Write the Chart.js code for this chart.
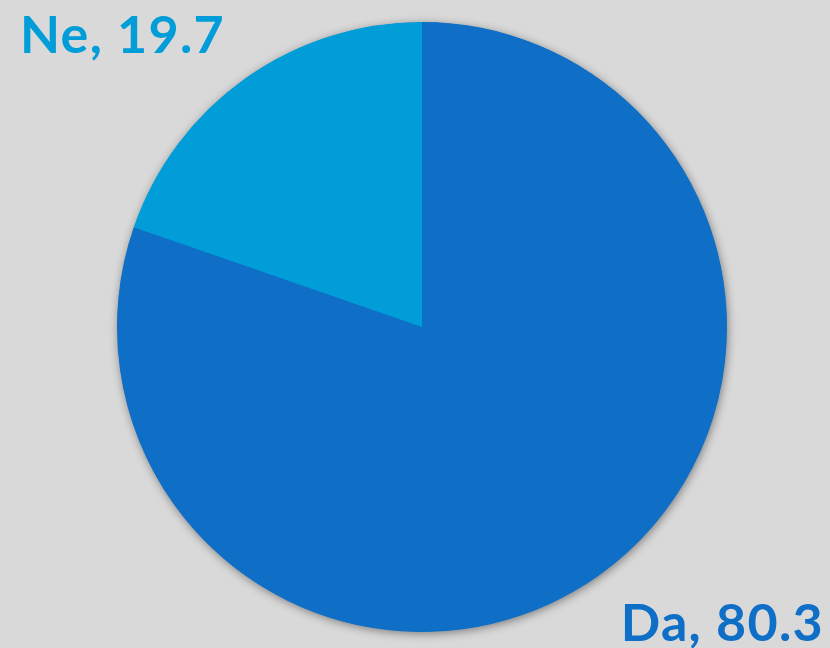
<!DOCTYPE html>
<html>
<head>
<meta charset="utf-8">
<script src="https://cdn.jsdelivr.net/npm/chart.js@4"></script>
<style>
    html, body { margin: 0; padding: 0; background: #d9d9d9; }
    #wrap { width: 830px; height: 648px; position: relative; }
</style>
</head>
<body>
<div id="wrap"><canvas id="pieChart" width="830" height="648"></canvas></div>
<script>
var categories = ['Da', 'Ne'];
var values = [80.3, 19.7];
var colors = ['#0f6fc6', '#009dd9'];

(function () {
    var el = document.getElementById('pieChart');

    // soft shadow behind the whole pie (drawn once, not per slice)
    var shadowPlugin = {
        id: 'pieShadow',
        beforeDatasetsDraw: function (chart) {
            var arc = chart.getDatasetMeta(0).data[0];
            if (!arc) return;
            var ctx = chart.ctx;
            ctx.save();
            ctx.shadowColor = 'rgba(0, 0, 0, 0.45)';
            ctx.shadowBlur = 10;
            ctx.shadowOffsetX = 1;
            ctx.shadowOffsetY = 2;
            ctx.fillStyle = colors[0];
            ctx.beginPath();
            ctx.arc(arc.x, arc.y, arc.outerRadius - 0.5, 0, Math.PI * 2);
            ctx.fill();
            ctx.restore();
        }
    };

    // "Category, value" labels in the corners
    var cornerLabels = {
        id: 'cornerLabels',
        afterDraw: function (chart) {
            var ctx = chart.ctx;
            ctx.save();
            ctx.font = 'bold 52px Lato, "DejaVu Sans", sans-serif';
            ctx.letterSpacing = '1.3px';
            ctx.textBaseline = 'alphabetic';
            ctx.fillStyle = colors[1];
            ctx.textAlign = 'left';
            ctx.fillText(categories[1] + ', ' + values[1], 20, 53);
            ctx.fillStyle = colors[0];
            ctx.textAlign = 'right';
            ctx.fillText(categories[0] + ', ' + values[0], 824, 641);
            ctx.restore();
        }
    };

    new Chart(el.getContext('2d'), {
        type: 'pie',
        data: {
            labels: categories,
            datasets: [{
                data: values,
                backgroundColor: colors,
                borderWidth: 0
            }]
        },
        options: {
            responsive: false,
            animation: false,
            layout: { padding: { top: 22, bottom: 16, left: 117, right: 103 } },
            plugins: {
                legend: { display: false },
                tooltip: { enabled: false }
            }
        },
        plugins: [shadowPlugin, cornerLabels]
    });
})();
</script>
</body>
</html>
